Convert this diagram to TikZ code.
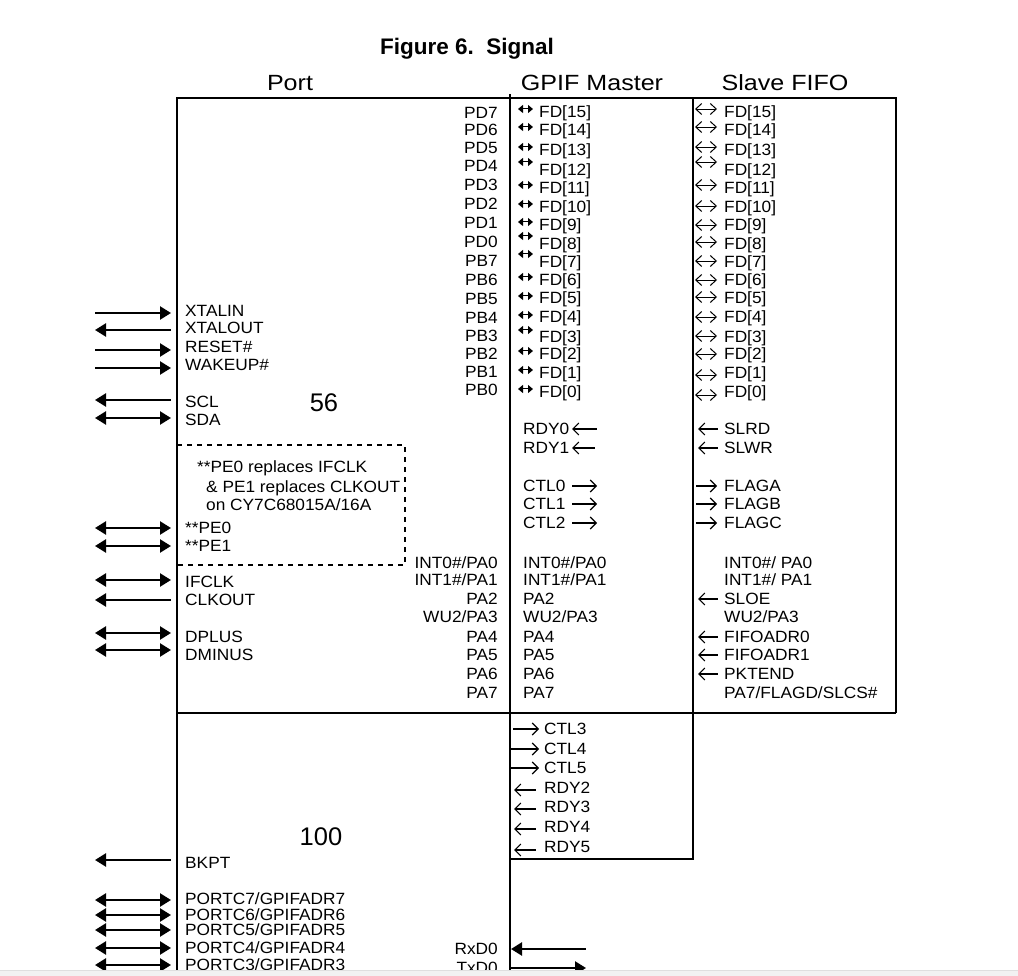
\documentclass[tikz,border=0pt]{standalone}
\usepackage{fontspec}
\setmainfont{Liberation Sans}
\newfontfamily\bodyf[FakeStretch=1.06]{Liberation Sans}
\newfontfamily\headf[FakeStretch=1.14]{Liberation Sans}
\usetikzlibrary{arrows.meta}
\newcommand\mkPL[3]{\node[lab,anchor=east] (#1) at (498,#2) {#3};}
\newcommand\mkGL[3]{\node[lab,anchor=west] (#1) at (523,#2) {#3};}
\newcommand\mkSL[3]{\node[lab,anchor=west] (#1) at (724,#2) {#3};}
\newcommand\mkGFD[4]{\node[lab,anchor=west] (#1) at (539,#2) {#3};
  \draw[gbi] ([xshift=-21pt,yshift=#4pt]#1.west) -- ++(15,0);}
\newcommand\mkSFD[4]{\node[lab,anchor=west] (#1) at (724,#2) {#3};
  \draw[sbi] ([xshift=-29pt,yshift=#4pt]#1.west) -- ++(22,0);}
\newcommand\mkLS[5]{\node[lab,anchor=west] (#1) at (185,#2) {#3};
  \coordinate (#1o) at (95,#4); \coordinate (#1i) at (171,#4);
  \draw[#5] (#1o) -- (#1i);}
\begin{document}
\begin{tikzpicture}[x=1pt,y=-1pt,
  box/.style={line width=2.2pt},
  lab/.style={font=\bodyf\fontsize{16.3}{18}\selectfont, inner sep=0pt, text height=11.7pt, text depth=0pt},
  head/.style={font=\headf\fontsize{22}{24}\selectfont, inner sep=0pt, text height=15.8pt, text depth=0pt},
  bignum/.style={font=\fontsize{25.5}{28}\selectfont, inner sep=0pt, text height=18.3pt, text depth=0pt},
  big/.style={line width=2.3pt},
  btip/.tip={Triangle[length=11pt,width=13pt]},
  bin/.style={big,-btip},
  bout/.style={big,btip-},
  bbi/.style={big,btip-btip},
  gtip/.tip={Triangle[length=5pt,width=8pt]},
  gbi/.style={line width=1pt,gtip-gtip},
  stip/.tip={Straight Barb[length=6pt,width=11pt,line width=1pt]},
  sbi/.style={line width=0.9pt,stip-stip},
  atip/.tip={Straight Barb[length=6pt,width=12pt,line width=1.1pt]},
  sl/.style={line width=1.1pt,atip-},
  sr/.style={line width=1.1pt,-atip},
]
\useasboundingbox (0,0) rectangle (1018,976);
\clip (0,0) rectangle (1018,976);
\fill[white] (0,0) rectangle (1018,976);

% titles
\node[font=\bfseries\fontsize{22.5}{24}\selectfont, inner sep=0pt, text height=16.5pt, text depth=0pt] (title) at (467,46.5) {Figure 6.\ \ Signal};
\node[head] (hport) at (290,83) {Port};
\node[head] (hgpif) at (592,83) {GPIF Master};
\node[head] (hslave) at (785,83) {Slave FIFO};

% boxes
\draw[box] (177,990) -- (177,98) -- (896,98) -- (896,713);
\draw[box] (177,713) -- (896,713);
\draw[box] (510,94) -- (510,990);
\draw[box] (693,98) -- (693,859) -- (510,859);
\draw[box, dash pattern=on 5pt off 5pt] (177,445) -- (405,445) -- (405,565) -- (177,565);

% numbers
\node[bignum] (n56) at (324,402) {56};
\node[bignum] (n100) at (321,836) {100};

% port right column
\mkPL{pd7}{113}{PD7}
\mkPL{pd6}{130}{PD6}
\mkPL{pd5}{148}{PD5}
\mkPL{pd4}{166}{PD4}
\mkPL{pd3}{185}{PD3}
\mkPL{pd2}{204}{PD2}
\mkPL{pd1}{223}{PD1}
\mkPL{pd0}{242}{PD0}
\mkPL{pb7}{261}{PB7}
\mkPL{pb6}{280}{PB6}
\mkPL{pb5}{299}{PB5}
\mkPL{pb4}{318}{PB4}
\mkPL{pb3}{336}{PB3}
\mkPL{pb2}{354}{PB2}
\mkPL{pb1}{372}{PB1}
\mkPL{pb0}{390}{PB0}
\mkPL{pa0}{563}{INT0\#/PA0}
\mkPL{pa1}{580}{INT1\#/PA1}
\mkPL{pa2}{599}{PA2}
\mkPL{pa3}{617}{WU2/PA3}
\mkPL{pa4}{637}{PA4}
\mkPL{pa5}{655}{PA5}
\mkPL{pa6}{674}{PA6}
\mkPL{pa7}{693}{PA7}
\mkPL{rxd}{949}{RxD0}
\mkPL{txd}{968}{TxD0}
\coordinate (rxdi) at (511,949); \coordinate (rxdo) at (586,949);
\draw[bout] (rxdi) -- (rxdo);
\coordinate (txdi) at (511,968); \coordinate (txdo) at (586,968);
\draw[bin] (txdi) -- (txdo);

% GPIF FD column
\mkGFD{g15}{112}{FD[15]}{3}
\mkGFD{g14}{130}{FD[14]}{3}
\mkGFD{g13}{150}{FD[13]}{3}
\mkGFD{g12}{170}{FD[12]}{8}
\mkGFD{g11}{188}{FD[11]}{3}
\mkGFD{g10}{207}{FD[10]}{3}
\mkGFD{g9}{225}{FD[9]}{3}
\mkGFD{g8}{244}{FD[8]}{8}
\mkGFD{g7}{262}{FD[7]}{8}
\mkGFD{g6}{280}{FD[6]}{3}
\mkGFD{g5}{298}{FD[5]}{2}
\mkGFD{g4}{317}{FD[4]}{2}
\mkGFD{g3}{337}{FD[3]}{7}
\mkGFD{g2}{354}{FD[2]}{3}
\mkGFD{g1}{373}{FD[1]}{3}
\mkGFD{g0}{392}{FD[0]}{3}

% Slave FD column
\mkSFD{s15}{112}{FD[15]}{3}
\mkSFD{s14}{130}{FD[14]}{3}
\mkSFD{s13}{150}{FD[13]}{3}
\mkSFD{s12}{170}{FD[12]}{8}
\mkSFD{s11}{188}{FD[11]}{3}
\mkSFD{s10}{207}{FD[10]}{1}
\mkSFD{s9}{225}{FD[9]}{0}
\mkSFD{s8}{244}{FD[8]}{2}
\mkSFD{s7}{262}{FD[7]}{1}
\mkSFD{s6}{280}{FD[6]}{0}
\mkSFD{s5}{298}{FD[5]}{1}
\mkSFD{s4}{317}{FD[4]}{0}
\mkSFD{s3}{337}{FD[3]}{1}
\mkSFD{s2}{354}{FD[2]}{0}
\mkSFD{s1}{373}{FD[1]}{-2}
\mkSFD{s0}{392}{FD[0]}{-3}

% GPIF control
\mkGL{rdy0}{429}{RDY0}
\mkGL{rdy1}{448}{RDY1}
\mkGL{ctl0}{486}{CTL0}
\mkGL{ctl1}{504}{CTL1}
\mkGL{ctl2}{523}{CTL2}
\draw[sl] ([xshift=49pt]rdy0.west) -- ++(25,0);
\draw[sl] ([xshift=49pt]rdy1.west) -- ++(23,0);
\draw[sr] ([xshift=49pt]ctl0.west) -- ++(25,0);
\draw[sr] ([xshift=49pt]ctl1.west) -- ++(25,0);
\draw[sr] ([xshift=49pt]ctl2.west) -- ++(25,0);
\mkGL{ga0}{563}{INT0\#/PA0}
\mkGL{ga1}{580}{INT1\#/PA1}
\mkGL{ga2}{599}{PA2}
\mkGL{ga3}{617}{WU2/PA3}
\mkGL{ga4}{637}{PA4}
\mkGL{ga5}{655}{PA5}
\mkGL{ga6}{674}{PA6}
\mkGL{ga7}{693}{PA7}

% GPIF lower box
\node[lab,anchor=west] (ctl3) at (544,729) {CTL3};
\node[lab,anchor=west] (ctl4) at (544,749) {CTL4};
\node[lab,anchor=west] (ctl5) at (544,768) {CTL5};
\node[lab,anchor=west] (rdy2) at (544,788) {RDY2};
\node[lab,anchor=west] (rdy3) at (544,807) {RDY3};
\node[lab,anchor=west] (rdy4) at (544,827) {RDY4};
\node[lab,anchor=west] (rdy5) at (544,847) {RDY5};
\draw[sr] ([xshift=-31pt]ctl3.west) -- ++(26,0);
\draw[sr] ([xshift=-33pt]ctl4.west) -- ++(28,0);
\draw[sr] ([xshift=-33pt]ctl5.west) -- ++(28,0);
\draw[sl] ([xshift=-30pt,yshift=-2pt]rdy2.west) -- ++(22,0);
\draw[sl] ([xshift=-30pt,yshift=-2pt]rdy3.west) -- ++(22,0);
\draw[sl] ([xshift=-30pt,yshift=-2pt]rdy4.west) -- ++(22,0);
\draw[sl] ([xshift=-30pt,yshift=-3pt]rdy5.west) -- ++(22,0);

% Slave control
\mkSL{slrd}{429}{SLRD}
\mkSL{slwr}{448}{SLWR}
\mkSL{flaga}{486}{FLAGA}
\mkSL{flagb}{504}{FLAGB}
\mkSL{flagc}{523}{FLAGC}
\draw[sl] ([xshift=-26pt]slrd.west) -- ++(20,0);
\draw[sl] ([xshift=-26pt]slwr.west) -- ++(20,0);
\draw[sr] ([xshift=-28pt]flaga.west) -- ++(21,0);
\draw[sr] ([xshift=-28pt]flagb.west) -- ++(21,0);
\draw[sr] ([xshift=-28pt]flagc.west) -- ++(21,0);
\mkSL{sa0}{563}{INT0\#/ PA0}
\mkSL{sa1}{580}{INT1\#/ PA1}
\mkSL{sloe}{599}{SLOE}
\mkSL{sa3}{617}{WU2/PA3}
\mkSL{fa0}{637}{FIFOADR0}
\mkSL{fa1}{655}{FIFOADR1}
\mkSL{pkt}{674}{PKTEND}
\mkSL{sa7}{693}{PA7/FLAGD/SLCS\#}
\draw[sl] ([xshift=-26pt]sloe.west) -- ++(20,0);
\draw[sl] ([xshift=-26pt]fa0.west) -- ++(20,0);
\draw[sl] ([xshift=-26pt]fa1.west) -- ++(20,0);
\draw[sl] ([xshift=-26pt]pkt.west) -- ++(20,0);

% note in dashed box
\node[lab,anchor=west] (note1) at (197,467) {**PE0 replaces IFCLK};
\node[lab,anchor=west] (note2) at (206,487) {\& PE1 replaces CLKOUT};
\node[lab,anchor=west] (note3) at (206,505) {on CY7C68015A/16A};

% left side signals
\mkLS{xin}{311}{XTALIN}{313}{bin}
\mkLS{xout}{328}{XTALOUT}{330}{bout}
\mkLS{rst}{347}{RESET\#}{350}{bin}
\mkLS{wak}{365}{WAKEUP\#}{368}{bin}
\mkLS{scl}{402}{SCL}{400}{bout}
\mkLS{sda}{420}{SDA}{418}{bbi}
\mkLS{pe0}{528}{**PE0}{528}{bbi}
\mkLS{pe1}{546}{**PE1}{546}{bbi}
\mkLS{ifclk}{582}{IFCLK}{580}{bbi}
\mkLS{clko}{600}{CLKOUT}{600}{bout}
\mkLS{dp}{637}{DPLUS}{633}{bbi}
\mkLS{dm}{655}{DMINUS}{650}{bbi}
\mkLS{bkpt}{863}{BKPT}{860}{bout}
\mkLS{pc7}{899}{PORTC7/GPIFADR7}{900}{bbi}
\mkLS{pc6}{915}{PORTC6/GPIFADR6}{915}{bbi}
\mkLS{pc5}{930}{PORTC5/GPIFADR5}{930}{bbi}
\mkLS{pc4}{948}{PORTC4/GPIFADR4}{948}{bbi}
\mkLS{pc3}{965}{PORTC3/GPIFADR3}{965}{bbi}

% page edge band
\fill[gray!10] (0,970.5) rectangle (1018,976);
\draw[gray!25, line width=0.5pt] (0,970.5) -- (1018,970.5);
\end{tikzpicture}
\end{document}
